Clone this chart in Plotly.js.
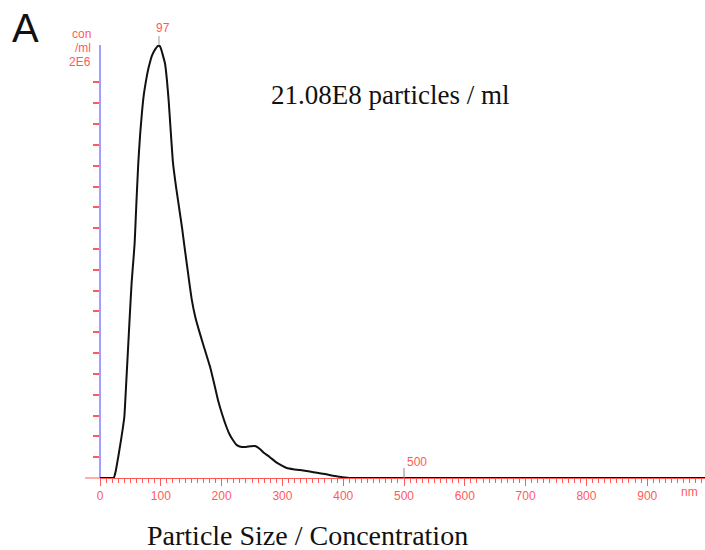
<!DOCTYPE html>
<html>
<head>
<meta charset="utf-8">
<script src="https://cdn.plot.ly/plotly-3.0.1.min.js"></script>
<style>html,body{margin:0;padding:0;background:#fff;}#chart{width:705px;height:550px;}</style>
</head>
<body>
<div id="chart"></div>
<script>
const sizes = [0, 20, 23, 26, 30, 35, 40, 43, 46, 49, 52, 55, 57, 60, 63, 66, 69, 72, 76, 79, 82, 85, 88, 91, 94, 97, 100, 103, 107, 110, 113, 116, 120, 125, 130, 135, 139, 145, 151, 157, 164, 172, 181, 188, 194, 201, 208, 213, 218, 225, 233, 240, 248, 255, 262, 270, 279, 290, 300, 307, 318, 329, 345, 357, 370, 383, 394, 403, 410, 500, 995];
const conc = [0, 0, 3e3, 3.5e4, 1.01e5, 1.9e5, 2.93e5, 4.5e5, 6.15e5, 7.8e5, 9.38e5, 1.05e6, 1.13e6, 1.33e6, 1.515e6, 1.65e6, 1.755e6, 1.84e6, 1.914e6, 1.96e6, 1.995e6, 2.025e6, 2.045e6, 2.06e6, 2.072e6, 2.08e6, 2.065e6, 2.035e6, 1.99e6, 1.914e6, 1.81e6, 1.68e6, 1.515e6, 1.4e6, 1.3e6, 1.2e6, 1.11e6, 9.8e5, 8.56e5, 7.7e5, 6.97e5, 6.2e5, 5.34e5, 4.5e5, 3.75e5, 3.05e5, 2.45e5, 2.1e5, 1.85e5, 1.58e5, 1.49e5, 1.49e5, 1.53e5, 1.54e5, 1.42e5, 1.2e5, 1.01e5, 7.5e4, 5.8e4, 4.8e4, 4.2e4, 3.85e4, 3.1e4, 2.5e4, 1.9e4, 1.1e4, 6e3, 2e3, 0, 0, 0];
const xTickVals = [0, 100, 200, 300, 400, 500, 600, 700, 800, 900];
const xTickText = ['0', '100', '200', '300', '400', '500', '600', '700', '800', '900'];
const yTickVals = [1e5, 2e5, 3e5, 4e5, 5e5, 6e5, 7e5, 8e5, 9e5, 1e6, 1.1e6, 1.2e6, 1.3e6, 1.4e6, 1.5e6, 1.6e6, 1.7e6, 1.8e6, 1.9e6];
const peakSize = 97;
const markSize = 500;
const totalText = '21.08E8 particles / ml';
const xTitle = 'Particle Size / Concentration';

const red = '#ff5a5a';
const sans = 'Liberation Sans, Arial, sans-serif';
const serif = 'Liberation Serif, Times New Roman, serif';
const trace = {
  x: sizes, y: conc, type: 'scatter', mode: 'lines',
  line: {color: '#111', width: 2, shape: 'spline', smoothing: 0.4},
  cliponaxis: false, hoverinfo: 'skip'
};
const layout = {
  width: 705, height: 550,
  margin: {l: 100, r: 0, t: 45, b: 72},
  paper_bgcolor: '#fff', plot_bgcolor: '#fff',
  showlegend: false,
  xaxis: {
    range: [0, 995], showgrid: false, zeroline: false,
    showline: true, linecolor: red, linewidth: 1, layer: 'below traces',
    tickvals: xTickVals, ticktext: xTickText, ticks: 'outside', ticklen: 7, tickcolor: red, tickwidth: 1,
    tickfont: {family: sans, size: 12, color: red},
    minor: {dtick: 10, tick0: 0, ticks: 'outside', ticklen: 4, tickcolor: red, tickwidth: 1, showgrid: false},
    fixedrange: true
  },
  yaxis: {
    range: [0, 2.08e6], showgrid: false, zeroline: false,
    showline: false,
    tickvals: yTickVals, ticks: 'outside', ticklen: 6, tickcolor: red, tickwidth: 2,
    showticklabels: false, fixedrange: true
  },
  shapes: [
    {type: 'line', xref: 'paper', yref: 'paper', x0: -15/605, x1: 0, y0: 0, y1: 0, line: {color: red, width: 1}},
    {type: 'line', xref: 'paper', yref: 'paper', x0: 0, x1: 0, y0: 0, y1: 1, line: {color: '#7f7fff', width: 1.5}, layer: 'below'},
    {type: 'line', xref: 'x', yref: 'paper', x0: peakSize, x1: peakSize, y0: 1, y1: 1 + 9/433, line: {color: '#999', width: 1}},
    {type: 'line', xref: 'x', yref: 'paper', x0: markSize, x1: markSize, y0: 0, y1: 10/433, line: {color: '#888', width: 1}}
  ],
  annotations: [
    {text: 'A', xref: 'paper', yref: 'paper', x: -90/605, y: 1 + 17/433, xanchor: 'left', yanchor: 'middle', showarrow: false,
      font: {family: sans, size: 40, color: '#111'}},
    {text: 'con', xref: 'paper', yref: 'paper', x: -7/605, y: 1 + 11/433, xanchor: 'right', yanchor: 'middle', showarrow: false,
      font: {family: sans, size: 12, color: red}},
    {text: '/ml', xref: 'paper', yref: 'paper', x: -7/605, y: 1 - 3/433, xanchor: 'right', yanchor: 'middle', showarrow: false,
      font: {family: sans, size: 12, color: red}},
    {text: '2E6', xref: 'paper', yref: 'paper', x: -7/605, y: 1 - 17/433, xanchor: 'right', yanchor: 'middle', showarrow: false,
      font: {family: sans, size: 12, color: red}},
    {text: String(peakSize), xref: 'x', yref: 'paper', x: peakSize + 6, y: 1 + 17/433, xanchor: 'center', yanchor: 'middle', showarrow: false,
      font: {family: sans, size: 12, color: red}},
    {text: String(markSize), xref: 'x', yref: 'paper', x: markSize + 2, y: 16/433, xanchor: 'left', yanchor: 'middle', showarrow: false,
      font: {family: sans, size: 12, color: red}},
    {text: 'nm', xref: 'paper', yref: 'paper', x: 589/605, y: -14/433, xanchor: 'center', yanchor: 'middle', showarrow: false,
      font: {family: sans, size: 12, color: red}},
    {text: totalText, xref: 'paper', yref: 'paper', x: 290/605, y: 1 - 50/433, xanchor: 'center', yanchor: 'middle', showarrow: false,
      font: {family: serif, size: 27, color: '#111'}},
    {text: xTitle, xref: 'paper', yref: 'paper', x: 207/605, y: -57/433, xanchor: 'center', yanchor: 'middle', showarrow: false,
      font: {family: serif, size: 28, color: '#111'}}
  ]
};
Plotly.newPlot('chart', [trace], layout, {staticPlot: true, displayModeBar: false});
</script>
</body>
</html>
